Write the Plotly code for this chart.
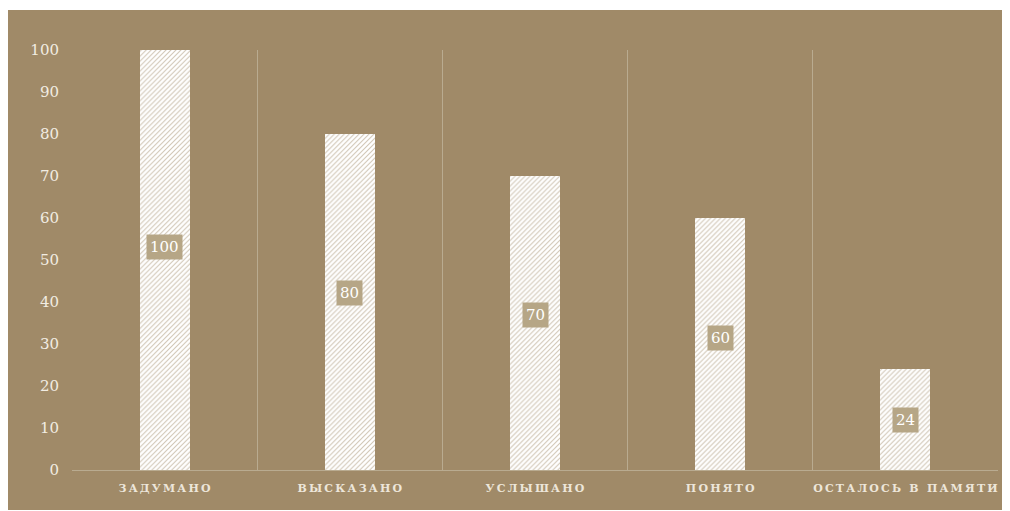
import plotly.graph_objects as go

categories = ["ЗАДУМАНО", "ВЫСКАЗАНО", "УСЛЫШАНО", "ПОНЯТО", "ОСТАЛОСЬ В ПАМЯТИ"]
values = [100, 80, 70, 60, 24]
y_ticks = [0, 10, 20, 30, 40, 50, 60, 70, 80, 90, 100]

BG = "#A08A68"
CREAM = "#F2EDE3"
LINE = "#B9AB90"
LABEL_BG = "#B6A686"

def spaced(s):
    return "\u2009".join(list(s))

tick_text = [spaced(c) for c in categories]

fig = go.Figure()
fig.add_trace(go.Bar(
    x=tick_text,
    y=values,
    width=0.27,
    marker=dict(
        color="white",
        line=dict(width=0),
        pattern=dict(shape="/", fgcolor=BG, bgcolor="white", size=3.5, solidity=0.3),
    ),
    hoverinfo="skip",
))

for c, v in zip(tick_text, values):
    fig.add_annotation(
        x=c, y=v * 0.54 - 1, text=str(v), showarrow=False,
        font=dict(family="DejaVu Serif", size=15, color="white"),
        bgcolor=LABEL_BG, borderpad=3,
    )

fig.add_shape(type="rect", xref="paper", yref="paper",
              x0=-0.08, x1=1.05, y0=-0.0952, y1=1.0952,
              fillcolor=BG, line=dict(width=0), layer="below")

fig.update_layout(
    width=1002, height=503,
    margin=dict(l=64, r=12, t=42, b=41, autoexpand=False),
    paper_bgcolor="white",
    plot_bgcolor=BG,
    showlegend=False,
    bargap=0,
    xaxis=dict(
        type="category",
        tickson="boundaries",
        showgrid=True, gridcolor=LINE, gridwidth=1,
        showline=True, linecolor=LINE, linewidth=1,
        ticks="", range=[-0.5, 4.5],
        tickangle=0, automargin=False,
        tickfont=dict(family="DejaVu Serif", size=11, color="#EDE6DA", weight="bold"),
        ticklabelstandoff=8,
    ),
    yaxis=dict(
        range=[0, 100], tickvals=y_ticks, showgrid=False, zeroline=False,
        showline=False, ticks="", automargin=False,
        tickfont=dict(family="DejaVu Serif", size=15, color=CREAM),
        ticklabelstandoff=12,
    ),
)

fig.write_html("out.html")
